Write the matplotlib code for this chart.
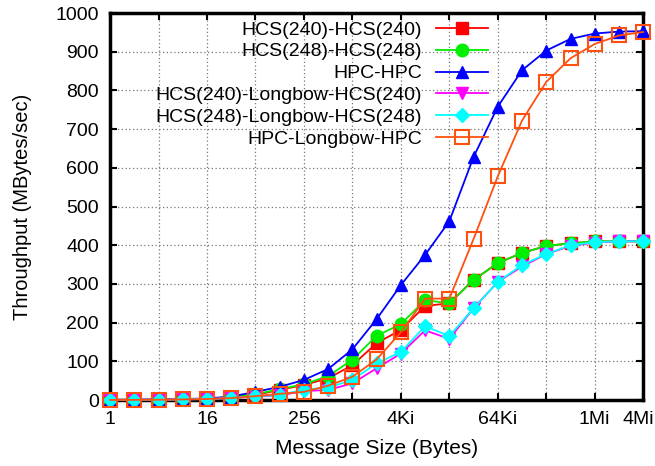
import numpy as np
import matplotlib.pyplot as plt
from matplotlib.transforms import ScaledTranslation

## message sizes 2^0 .. 2^22 bytes
sizes = [2 ** i for i in range(23)]

## throughput (MBytes/sec)
hcs240 = [0.3, 0.5, 1, 2, 3, 6, 13, 26, 39, 56, 90, 147, 181, 243, 250, 310, 354, 380, 398, 405, 410, 410, 410]
hcs248 = [0.3, 0.5, 1, 2, 3, 7, 15, 28, 41, 62, 104, 166, 196, 258, 250, 310, 354, 380, 398, 405, 410, 410, 410]
hpc = [0.3, 0.6, 1.2, 2.5, 4, 9, 21, 34, 52, 80, 131, 209, 297, 375, 462, 628, 758, 852, 903, 933, 947, 952, 953]
hcs240_lb = [0.2, 0.4, 0.8, 1.5, 2.5, 5, 9, 12, 23, 26, 43, 82, 120, 180, 158, 237, 305, 345, 377, 398, 407, 410, 410]
hcs248_lb = [0.2, 0.4, 0.8, 1.5, 2.5, 5, 10, 13, 27, 32, 52, 95, 124, 191, 165, 237, 305, 349, 377, 400, 408, 410, 410]
hpc_lb = [0.2, 0.4, 0.8, 1.5, 2.5, 5, 10, 16, 21, 37, 60, 105, 175, 262, 262, 416, 578, 722, 822, 883, 920, 942, 951]

labels = ["HCS(240)-HCS(240)", "HCS(248)-HCS(248)", "HPC-HPC",
          "HCS(240)-Longbow-HCS(240)", "HCS(248)-Longbow-HCS(248)", "HPC-Longbow-HPC"]
xtick_labels = {0: "1", 4: "16", 8: "256", 12: "4Ki", 16: "64Ki", 20: "1Mi", 22: "4Mi"}

plt.rcParams['font.family'] = ['Liberation Sans', 'DejaVu Sans']

fig = plt.figure(figsize=(6.55, 4.66), dpi=100)
ax = fig.add_axes([0.168, 0.1416, 0.814, 0.8305])

series = [hcs240, hcs248, hpc, hcs240_lb, hcs248_lb, hpc_lb]
styles = [
    dict(color='#ff0000', marker='s', ms=8.5),
    dict(color='#00ee00', marker='o', ms=9),
    dict(color='#0000ff', marker='^', ms=8.5),
    dict(color='#ff00ff', marker='v', ms=8),
    dict(color='#00ffff', marker='D', ms=7),
    dict(color='#ff5010', marker='s', ms=10, mfc='none', mew=1.5),
]
for y, lab, st in zip(series, labels, styles):
    ax.plot(sizes, y, label=lab, lw=1.3, clip_on=False, zorder=3, **st)

ax.set_xscale('log', base=2)
ax.set_xlim(1, 2 ** 22)
ax.set_ylim(0, 1000)

xt = [2 ** i for i in range(0, 23, 2)]
ax.set_xticks(xt)
ax.set_xticklabels([xtick_labels.get(i, "") for i in range(0, 23, 2)])
ax.xaxis.set_minor_locator(plt.NullLocator())
ax.set_yticks(np.arange(0, 1001, 100))

ax.tick_params(direction='in', top=True, right=True, length=5, width=1.5,
               labelsize=14, pad=8)
ax.grid(True, linestyle=(0, (1, 2)), color='#777777', lw=0.9)
for s in ax.spines.values():
    s.set_linewidth(2.5)

# last label sits a bit left, as in the original
lastlab = ax.get_xticklabels()[-1]
lastlab.set_transform(lastlab.get_transform() + ScaledTranslation(-5 / 100, 0, fig.dpi_scale_trans))

ax.set_xlabel("Message Size (Bytes)", fontsize=15, labelpad=8)
ax.set_ylabel("Throughput (MBytes/sec)", fontsize=14.5, labelpad=17)

ax.legend(loc='upper right', bbox_to_anchor=(488 / 655, 1 - 21 / 466),
          bbox_transform=fig.transFigure, markerfirst=False,
          frameon=False, fontsize=14, handlelength=2.7, labelspacing=0.22,
          borderpad=0, borderaxespad=0, handletextpad=0.7)

plt.savefig('out.png', dpi=100)
